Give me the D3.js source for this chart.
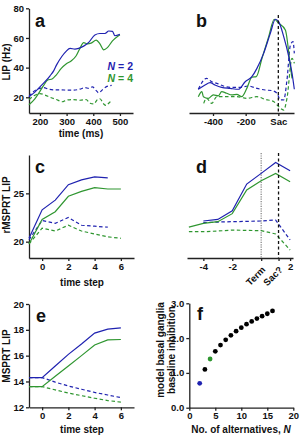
<!DOCTYPE html>
<html lang="en">
<head>
<meta charset="UTF-8">
<title>LIP / MSPRT panels</title>
<script src="https://d3js.org/d3.v7.min.js"></script>
<style>
  body { margin: 0; background: #fff; }
  svg text { font-family: "Liberation Sans", Arial, Helvetica, sans-serif; font-weight: bold; fill: #111; }
  .axis path, .axis line { stroke: #222; stroke-width: 1.3; }
  .axis text { font-size: 9.5px; }
</style>
</head>
<body>
<div id="plot"></div>
<script>
// ---- data: panel a (time ms, rate Hz) ----
let aBlue = [[159,20.5],[181,23.5],[200,27],[219,30.5],[238,34.5],[252,38],[263,42],[282,47.5],[298,51],[313,53],[331,52.5],[345,53],[364,54.5],[383,57],[406,62],[425,63],[444,63],[458,64.7],[472,64.5],[481,61.5],[500,62.5]];
let aGreen = [[159,15],[181,19],[200,24],[214,28],[228,31.5],[247,32.5],[261,35],[280,39.5],[298,42.5],[317,44.5],[336,48],[350,53],[364,56.8],[378,56],[392,56.5],[411,58.5],[425,56],[439,52],[453,53.5],[472,58],[491,61],[500,62]];
let aBlueDash = [[159,20.5],[177,24],[200,26],[214,26.5],[233,25.5],[256,25],[280,25],[303,24.8],[327,24.8],[350,25.5],[369,26.5],[383,26],[397,27],[411,24.5],[420,23],[434,25],[448,27],[469,28]];
let aGreenDash = [[159,18.5],[177,21],[200,22.5],[219,21.5],[238,20],[261,18.5],[284,17],[298,18],[322,18.5],[350,18],[373,18.5],[388,16],[402,15.5],[416,18.5],[425,19],[439,15.5],[448,14.5],[458,16],[469,18]];
let aXTicks = [200, 300, 400, 500];
let aYTicks = [20, 40, 60, 80];

// ---- panel b (time to saccade ms, rate Hz) ----
let bBlue = [[-490,25.4],[-449,28.3],[-418,29.9],[-388,28.3],[-347,26.7],[-295,26],[-244,25.4],[-203,30.5],[-162,33.9],[-131,39.5],[-90,49.6],[-49,63.1],[-18,72.6],[2,71],[33,60.9],[64,47.4],[84,36.2],[98,25.4]];
let bGreen = [[-490,20.4],[-468,23.8],[-459,20.4],[-429,19.3],[-398,21.6],[-367,20.9],[-347,23.8],[-316,22.7],[-285,21.6],[-254,22],[-224,20.4],[-193,26],[-162,33.5],[-135,33.9],[-100,46.3],[-59,60.9],[-25,72.6],[2,69.9],[43,65.4],[74,40.7],[84,32.8]];
let bBlueDash = [[-490,25.4],[-439,32.8],[-408,30.5],[-377,29.4],[-336,27.6],[-285,26.7],[-234,26.7],[-183,27.6],[-131,26],[-80,24.9],[-39,24.5],[-8,22.7],[12,18.2],[33,18.2],[53,31.7],[74,55.3],[90,57.5],[98,49.6]];
let bGreenDash = [[-457,15.9],[-439,19.3],[-408,15.9],[-377,20.4],[-316,20.4],[-254,20.4],[-193,19.3],[-131,20.4],[-80,18.6],[-29,17.1],[2,13.7],[33,11.4],[53,19.3],[84,46.3],[98,42.9]];
let bXTicks = [-400, -200, 0];

// ---- panel c (time step, rMSPRT LIP) ----
let cStep = [-1, 0, 1, 2, 3, 4, 5, 6];
let cBlue = [20.35, 23.3, 24.3, 25.9, 26.4, 26.7, 26.6];
let cGreen = [19.76, 22.3, 23.1, 24.7, 25.2, 25.6, 25.45, 25.45];
let cBlueDash = [20.2, 22.2, 21.9, 22.5, 21.7, 21.6, 21.5];
let cGreenDash = [19.76, 21.4, 21.1, 21.7, 21.1, 20.8, 20.5, 20.35];
let cYTicks = [20, 25];
let stepTicks = [0, 2, 4, 6];

// ---- panel d (steps aligned to termination) ----
let dStepBlue = [-4, -3, -2, -1, 0, 1, 2];
let dStepGreen = [-5, -4, -3, -2, -1, 0, 1, 2];
let dBlue = [22.14, 22.3, 23.2, 25.96, 27.07, 28.2, 27.35];
let dGreen = [21.5, 21.9, 22.07, 22.9, 25.35, 26.3, 27.07, 26.2];
let dBlueDash = [21.97, 22.03, 22.07, 22.1, 22.14, 22.24, 20.18];
let dGreenDash = [21.03, 21.03, 21.1, 21.2, 21.17, 21.14, 20.8, 19.14];
let dTerm = 0, dSac = 1.2;
let dXTicks = [-4, -2, dTerm, dSac, 2];

// ---- panel e (time step, MSPRT LIP) ----
let eBlue = [14.3, 14.3, 15.2, 16.1, 16.9, 17.75, 18.05, 18.15];
let eGreen = [13.6, 13.6, 14.4, 15.2, 16.0, 16.83, 17.22, 17.25];
let eBlueDash = [14.3, 14.3, 13.95, 13.65, 13.4, 13.15, 12.95, 12.75];
let eGreenDash = [13.6, 13.6, 13.35, 13.1, 12.9, 12.7, 12.52, 12.4];
let eYTicks = [12, 14, 16, 18, 20];

// ---- panel f (N alternatives, baseline inhibition) ----
let fN = [2, 3, 4, 5, 6, 7, 8, 9, 10, 11, 12, 13, 14, 15, 16];
let fInhib = [0.7, 1.1, 1.4, 1.62, 1.8, 1.95, 2.08, 2.2, 2.3, 2.4, 2.48, 2.56, 2.63, 2.7, 2.78];
let fXTicks = [0, 5, 10, 15, 20];
let fYTicks = [0, 1, 2, 3];

let blue = '#1f22b0';
let green = '#2f9630';

function translate(x, y) { return 'translate(' + x + ',' + y + ')'; }

let svg = d3.select('#plot').append('svg')
    .attr('width', 303).attr('height', 438);

function drawLine(x, y, pts, color, dashed, curve) {
    let line = d3.line()
        .x(d => x(d[0])).y(d => y(d[1]))
        .curve(curve || d3.curveLinear);
    svg.append('path')
        .datum(pts)
        .attr('d', line)
        .attr('fill', 'none')
        .attr('stroke', color)
        .attr('stroke-width', 1.2)
        .attr('stroke-dasharray', dashed ? '3.5,2.5' : null);
}

function zip(xs, ys) { return ys.map((v, i) => [xs[i], v]); }

function letter(x, y, s) {
    svg.append('text').attr('x', x).attr('y', y).attr('font-size', 18).text(s);
}

function yTitle(x, y, s) {
    svg.append('text')
        .attr('transform', translate(x, y) + ' rotate(-90)')
        .attr('text-anchor', 'middle')
        .attr('font-size', 10)
        .text(s);
}

function xTitle(x, y, s) {
    return svg.append('text').attr('x', x).attr('y', y)
        .attr('text-anchor', 'middle').attr('font-size', 10).text(s);
}

function vline(x, x0, y0, y1, color, dash) {
    svg.append('line')
        .attr('x1', x(x0)).attr('x2', x(x0))
        .attr('y1', y0).attr('y2', y1)
        .attr('stroke', color).attr('stroke-width', 1.3)
        .attr('stroke-dasharray', dash);
}

let fmt = d => String(d);

// ================= panel a =================
let xA = d3.scaleLinear().domain([159, 549]).range([29, 133]);
let yA = d3.scaleLinear().domain([9.4, 80]).range([113, 8.3]);

svg.append('g').attr('class', 'axis').attr('transform', translate(0, 113))
    .call(d3.axisBottom(xA).tickValues(aXTicks).tickSize(3).tickPadding(2).tickSizeOuter(0).tickFormat(fmt));
svg.append('g').attr('class', 'axis').attr('transform', translate(29, 0))
    .call(d3.axisLeft(yA).tickValues(aYTicks).tickSize(3).tickPadding(2).tickSizeOuter(0));

drawLine(xA, yA, aBlueDash, blue, true, d3.curveMonotoneX);
drawLine(xA, yA, aGreenDash, green, true, d3.curveMonotoneX);
drawLine(xA, yA, aGreen, green, false, d3.curveMonotoneX);
drawLine(xA, yA, aBlue, blue, false, d3.curveMonotoneX);

letter(35, 27, 'a');
yTitle(10, 62, 'LIP (Hz)');
xTitle(81, 137, 'time (ms)');

let legend = [['2', blue, 70], ['4', green, 82]];
legend.forEach(function(l) {
    let t = svg.append('text').attr('x', 133).attr('y', l[2])
        .attr('text-anchor', 'end').attr('font-size', 10.5);
    t.append('tspan').attr('font-style', 'italic').attr('fill', l[1]).text('N');
    t.append('tspan').attr('fill', l[1]).text(' = ' + l[0]);
});

// ================= panel b =================
let xB = d3.scaleLinear().domain([-547, 96]).range([189, 294]);
let yB = yA;

svg.append('g').attr('class', 'axis').attr('transform', translate(0, 113))
    .call(d3.axisBottom(xB).tickValues(bXTicks).tickSize(3).tickPadding(2).tickSizeOuter(0)
        .tickFormat(d => d === 0 ? 'Sac' : String(d)));

drawLine(xB, yB, bGreenDash, green, true, d3.curveMonotoneX);
drawLine(xB, yB, bBlueDash, blue, true, d3.curveMonotoneX);
drawLine(xB, yB, bGreen, green, false, d3.curveMonotoneX);
drawLine(xB, yB, bBlue, blue, false, d3.curveMonotoneX);
vline(xB, 0, 15, 113, '#111', '3,2.5');

letter(196, 27, 'b');

// ================= panel c =================
let xC = d3.scaleLinear().domain([-1, 7]).range([29, 134]);
let yC = d3.scaleLinear().domain([18.31, 28.97]).range([258, 155]);

svg.append('g').attr('class', 'axis').attr('transform', translate(0, 258))
    .call(d3.axisBottom(xC).tickValues(stepTicks).tickSize(3).tickPadding(2).tickSizeOuter(0));
svg.append('g').attr('class', 'axis').attr('transform', translate(29, 0))
    .call(d3.axisLeft(yC).tickValues(cYTicks).tickSize(3).tickPadding(2).tickSizeOuter(0));

drawLine(xC, yC, zip(cStep, cBlueDash), blue, true);
drawLine(xC, yC, zip(cStep, cGreenDash), green, true);
drawLine(xC, yC, zip(cStep, cGreen), green, false);
drawLine(xC, yC, zip(cStep, cBlue), blue, false);

letter(35, 173, 'c');
yTitle(10, 205, 'rMSPRT LIP');
xTitle(82, 286, 'time step');

// ================= panel d =================
let xD = d3.scaleLinear().domain([-5.13, 2.2]).range([187, 293]);
let yD = yC;

let dAxis = svg.append('g').attr('class', 'axis').attr('transform', translate(0, 258))
    .call(d3.axisBottom(xD).tickValues(dXTicks).tickSize(3).tickPadding(2).tickSizeOuter(0)
        .tickFormat(d => d === dTerm ? 'Term' : d === dSac ? 'Sac?' : String(d)));
dAxis.selectAll('.tick text')
    .filter(d => d === dTerm || d === dSac)
    .attr('text-anchor', 'end')
    .attr('y', 0)
    .attr('dy', '0.35em')
    .attr('transform', 'translate(2,10) rotate(-45)');

vline(xD, dTerm, 153, 258, '#888', '1.2,1.2');
drawLine(xD, yD, zip(dStepGreen, dGreenDash), green, true);
drawLine(xD, yD, zip(dStepBlue, dBlueDash), blue, true);
drawLine(xD, yD, zip(dStepGreen, dGreen), green, false);
drawLine(xD, yD, zip(dStepBlue, dBlue), blue, false);
vline(xD, dSac, 153, 258, '#111', '3,2.5');

letter(196, 173, 'd');

// ================= panel e =================
let xE = d3.scaleLinear().domain([-1, 7]).range([29, 134]);
let yE = d3.scaleLinear().domain([12, 20]).range([407.3, 304]);

svg.append('g').attr('class', 'axis').attr('transform', translate(0, 407.3))
    .call(d3.axisBottom(xE).tickValues(stepTicks).tickSize(3).tickPadding(2).tickSizeOuter(0));
svg.append('g').attr('class', 'axis').attr('transform', translate(29, 0))
    .call(d3.axisLeft(yE).tickValues(eYTicks).tickSize(3).tickPadding(2).tickSizeOuter(0));

drawLine(xE, yE, zip(cStep, eBlueDash), blue, true);
drawLine(xE, yE, zip(cStep, eGreenDash), green, true);
drawLine(xE, yE, zip(cStep, eGreen), green, false);
drawLine(xE, yE, zip(cStep, eBlue), blue, false);

letter(36, 322, 'e');
yTitle(10, 356, 'MSPRT LIP');
xTitle(82, 433, 'time step');

// ================= panel f =================
let xF = d3.scaleLinear().domain([0, 20]).range([189.3, 293.3]);
let yF = d3.scaleLinear().domain([0, 3]).range([407.7, 303.3]);

svg.append('g').attr('class', 'axis').attr('transform', translate(0, 407.7))
    .call(d3.axisBottom(xF).tickValues(fXTicks).tickSize(3).tickPadding(2).tickSizeOuter(0));
svg.append('g').attr('class', 'axis').attr('transform', translate(189.3, 0))
    .call(d3.axisLeft(yF).tickValues(fYTicks).tickSize(3).tickPadding(2).tickSizeOuter(0));

svg.selectAll('circle.pt')
    .data(zip(fN, fInhib))
    .enter()
    .append('circle')
    .attr('class', 'pt')
    .attr('r', 2.4)
    .attr('cx', d => xF(d[0]))
    .attr('cy', d => yF(d[1]))
    .attr('fill', d => d[0] === 2 ? blue : d[0] === 4 ? green : '#000');

letter(197, 320, 'f');
yTitle(164, 350, 'model basal ganglia');
yTitle(174.5, 350, 'baseline inhibition');
let fx = xTitle(241, 433, 'No. of alternatives, ');
fx.append('tspan').attr('font-style', 'italic').text('N');
</script>
</body>
</html>
